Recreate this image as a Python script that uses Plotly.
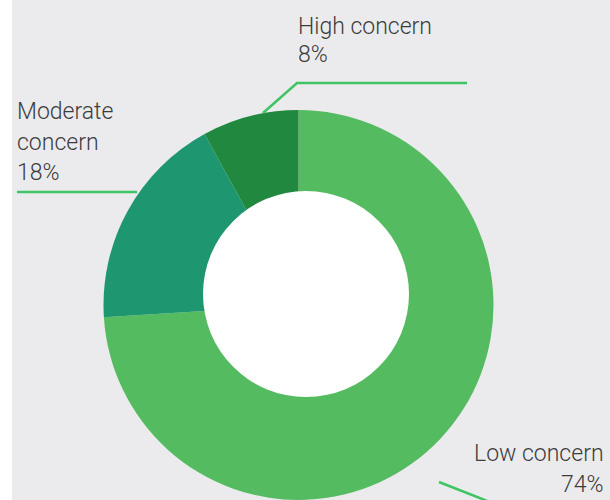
import plotly.graph_objects as go

# concern levels and their shares (%)
labels = ["Low concern", "Moderate concern", "High concern"]
values = [74, 18, 8]
colors = ["#55bb61", "#1e9670", "#21883f"]

W, H = 610, 500
bg = "#ebebee"
txt = "#3c3c3c"
lead = "#3ec463"

def px(x):
    return x / W

def py(y):
    return 1 - y / H

fig = go.Figure()

fig.add_trace(go.Pie(
    labels=labels,
    values=values,
    marker=dict(colors=colors, line=dict(width=0)),
    sort=False,
    direction="clockwise",
    rotation=0,
    textinfo="none",
    hoverinfo="label+percent",
    domain=dict(x=[px(100), px(497)], y=[0, py(110)]),
    showlegend=False,
))

shapes = [
    # white strip at the left edge
    dict(type="rect", xref="paper", yref="paper", x0=0, x1=px(12), y0=0, y1=1,
         fillcolor="white", line=dict(width=0)),
    # the (slightly off-centre) hole
    dict(type="circle", xref="paper", yref="paper",
         x0=px(203), x1=px(409), y0=py(397), y1=py(191),
         fillcolor="white", line=dict(width=0)),
    # leader lines
    dict(type="path", xref="paper", yref="paper",
         path=f"M {px(263)},{py(113)} L {px(297)},{py(83)} L {px(467)},{py(83)}",
         line=dict(color=lead, width=2.5)),
    dict(type="line", xref="paper", yref="paper",
         x0=px(17), y0=py(192), x1=px(137), y1=py(192),
         line=dict(color=lead, width=2.5)),
    dict(type="line", xref="paper", yref="paper",
         x0=px(439), y0=py(482), x1=px(500), y1=py(506),
         line=dict(color=lead, width=2.5)),
]

def pct(i):
    return f"{values[i]}%"

font = dict(family="Roboto", size=23, color=txt, weight=300)
# (text, x, baseline, anchor)
lines = [
    ("High concern", 298, 33, "left"),
    (pct(2), 298, 62, "left"),
    ("Moderate", 17, 119, "left"),
    ("concern", 17, 149, "left"),
    (pct(1), 17, 179, "left"),
    ("Low concern", 604, 460, "right"),
    (pct(0), 604, 491, "right"),
]
annotations = []
for t, x, base, anc in lines:
    annotations.append(dict(
        text=t, x=px(x), y=py(base - 7), xref="paper", yref="paper",
        xanchor=anc, yanchor="middle", showarrow=False, font=font,
        xshift=-2 if anc == "left" else 2,
    ))

fig.update_layout(
    width=W, height=H,
    margin=dict(l=0, r=0, t=0, b=0),
    paper_bgcolor=bg,
    plot_bgcolor=bg,
    shapes=shapes,
    annotations=annotations,
)

# drop the browser's default body margin so the figure fills the window
fig.write_html("out.html", config={"displayModeBar": False},
               post_script="document.body.style.margin='0';")
